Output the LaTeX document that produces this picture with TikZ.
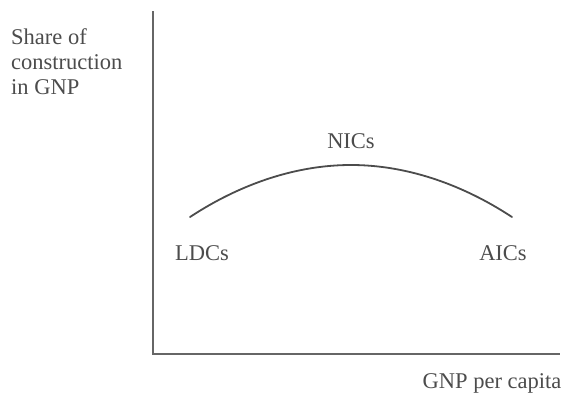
\documentclass[tikz,border=0pt]{standalone}
\usepackage{fontspec}
\setmainfont{Liberation Serif}
\usetikzlibrary{positioning}

\begin{document}
\begin{tikzpicture}[
    x=1pt, y=-1pt,
    every node/.style={text=black!70, font=\fontsize{22.5}{25}\selectfont, inner sep=0pt},
    axis/.style={draw=black!60, line width=1.2pt},
    curve/.style={draw=black!70, line width=1.8pt, line cap=round}
  ]
  \useasboundingbox (0,0) rectangle (576,394);

  \coordinate (origin) at (153,354);
  \coordinate (ytop) at (153,11);
  \coordinate (xend) at (560,354);
  \coordinate (ldc) at (190,217);
  \coordinate (nic) at (351,165);
  \coordinate (aic) at (512,217);

  \draw[axis] (ytop) -- (origin) -- (xend);
  \draw[curve] (ldc) parabola bend (nic) (aic);

  \node[anchor=north west, align=left] (ylabel) at (11,28) {Share of\\construction\\in GNP};
  \node (nics) [above=16pt of nic] {NICs};
  \node (ldcs) at (202,253) {LDCs};
  \node (aics) at (503,253) {AICs};
  \node (xlabel) at (492,383) {GNP per capita};
\end{tikzpicture}
\end{document}
